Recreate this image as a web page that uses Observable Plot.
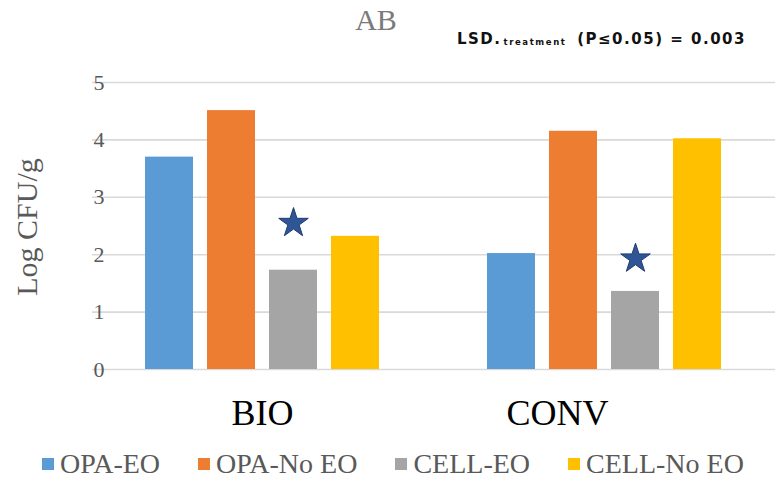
<!DOCTYPE html>
<html><head><meta charset="utf-8">
<script src="https://cdn.jsdelivr.net/npm/d3@7"></script>
<script src="https://cdn.jsdelivr.net/npm/@observablehq/plot@0.6"></script>
<style>
body{margin:0;background:#fff;}
#wrap{position:relative;width:775px;height:479px;overflow:hidden;font-family:"Liberation Serif","Times New Roman",serif;background:#fff;}
#grid,#chart{position:absolute;left:0;top:0;}
#title{position:absolute;left:276px;width:200px;top:1px;text-align:center;font-size:30px;color:#7a7a7a;line-height:38px;}
#lsd{position:absolute;left:457px;top:29px;font-family:"DejaVu Sans",sans-serif;font-weight:bold;font-size:15px;letter-spacing:1.5px;color:#111;white-space:nowrap;line-height:20px;}
#lsd sub{font-size:8.5px;letter-spacing:1.6px;vertical-align:-1px;margin:0 4px 0 2px;}
#ylabel{position:absolute;left:-73px;top:208px;width:200px;height:38px;line-height:38px;text-align:center;font-size:30px;color:#595959;transform:rotate(-90deg);}
#legend{position:absolute;left:42px;top:448px;display:flex;align-items:center;gap:38px;font-size:28px;line-height:31px;color:#595959;white-space:nowrap;}
#legend .item{display:flex;align-items:center;gap:6px;}
#legend .sw{width:12px;height:12px;display:inline-block;}
</style></head><body>
<div id="wrap">
  <div id="grid"></div>
  <div id="chart"></div>
  <div id="title"></div>
  <div id="lsd"></div>
  <div id="ylabel"></div>
  <div id="legend"></div>
</div>
<script>
const titleText = "AB";
const lsdMain = "LSD.";
const lsdSub = "treatment";
const lsdRest = " (P≤0.05) = 0.003";
const yLabel = "Log CFU/g";
const groups = ["BIO", "CONV"];
const series = ["OPA-EO", "OPA-No EO", "CELL-EO", "CELL-No EO"];
const bioValues = [3.70, 4.51, 1.73, 2.32];
const convValues = [2.02, 4.15, 1.36, 4.02];
const colors = ["#5b9bd5", "#ed7d31", "#a5a5a5", "#ffc000"];
const starSeries = "CELL-EO";
const starValues = [2.55, 1.93];
const yTicks = [0, 1, 2, 3, 4, 5];

const groupValues = [bioValues, convValues];
const rows = groups.flatMap((g, i) => series.map((s, j) => ({group: g, series: s, value: groupValues[i][j]})));
const stars = groups.map((g, i) => ({group: g, series: starSeries, value: starValues[i]}));

document.getElementById("title").textContent = titleText;
const lsd = document.getElementById("lsd");
lsd.append(lsdMain);
const sub = document.createElement("sub"); sub.textContent = lsdSub; lsd.append(sub);
lsd.append(lsdRest);
document.getElementById("ylabel").textContent = yLabel;

const legend = document.getElementById("legend");
series.forEach((s, i) => {
  const it = document.createElement("div"); it.className = "item";
  const sw = document.createElement("span"); sw.className = "sw"; sw.style.background = colors[i];
  const tx = document.createElement("span"); tx.textContent = s;
  it.append(sw, tx); legend.append(it);
});

const common = {
  width: 775, height: 440,
  marginTop: 82, marginBottom: 71, marginLeft: 92, marginRight: 0,
  y: {domain: [0, 5], axis: null}
};

// background gridlines across the whole plot width
const grid = Plot.plot({
  ...common,
  style: {background: "transparent"},
  x: {axis: null},
  marks: [
    Plot.ruleY(yTicks, {stroke: "#d9d9d9", strokeWidth: 1.6})
  ]
});
document.getElementById("grid").append(grid);

const chart = Plot.plot({
  ...common,
  style: {background: "transparent", fontFamily: "Liberation Serif, serif", overflow: "visible"},
  fx: {domain: groups, paddingInner: 0.233, paddingOuter: 0.113, label: null},
  x: {domain: series, padding: 0.22, axis: null},
  color: {domain: series, range: colors},
  marks: [
    Plot.barY(rows, {fx: "group", x: "series", y: "value", fill: "series"}),
    Plot.dot(stars, {fx: "group", x: "series", y: "value", symbol: "star", r: 9.3, fill: "#2f5597", stroke: "#1f3b70", strokeWidth: 1}),
    Plot.axisY(yTicks, {tickSize: 0, tickPadding: 27, fontSize: 22, fill: "#595959", label: null, tickFormat: d3.format("d")}),
    Plot.axisFx({anchor: "bottom", tickSize: 0, tickPadding: 30, fontSize: 36, fill: "#000", label: null, tickFormat: d => d === "BIO" ? d : ""}),
    Plot.axisFx({anchor: "bottom", tickSize: 0, tickPadding: 30, fontSize: 36, fill: "#000", label: null, dx: -47, tickFormat: d => d === "CONV" ? d : ""})
  ]
});
document.getElementById("chart").append(chart);
</script>
</body></html>
